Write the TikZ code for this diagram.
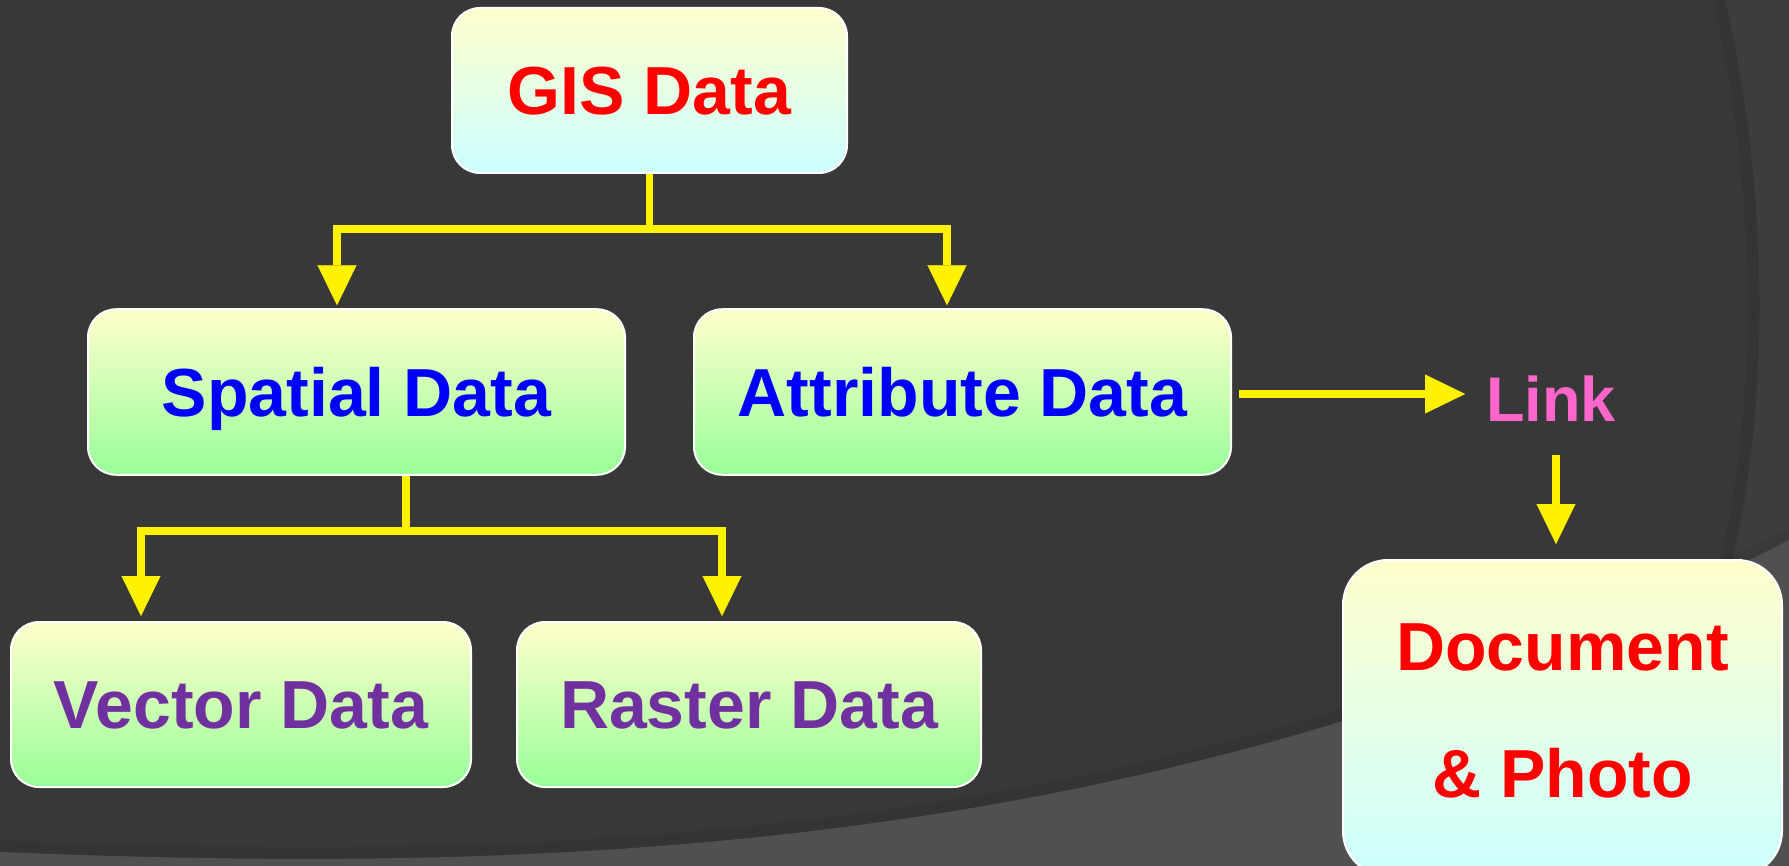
\documentclass[tikz,border=0pt]{standalone}
\usepackage{fontspec}
\setmainfont{Liberation Sans}
\usetikzlibrary{arrows.meta}

\definecolor{bgdark}{HTML}{383838}
\definecolor{bgright}{HTML}{3D3D3D}
\definecolor{bgbottom}{HTML}{505050}
\definecolor{boxtop}{HTML}{FFFFCC}
\definecolor{boxgreen}{HTML}{99FF99}
\definecolor{boxcyan}{HTML}{CCFFFF}
\definecolor{linkpink}{HTML}{FF66CC}
\definecolor{datapurple}{HTML}{7030A0}

\begin{document}
\begin{tikzpicture}[
      x=1pt, y=-1pt,
      every node/.style={font=\bfseries\fontsize{68pt}{127pt}\selectfont, inner sep=0pt},
      databox/.style={draw=white, line width=2pt, rounded corners=28pt,
        top color=boxtop, bottom color=boxgreen, text height=48.7pt, text depth=0pt},
      cyanbox/.style={databox, bottom color=boxcyan},
      conn/.style={draw=yellow, line width=7.5pt},
      arr/.style={conn, -{Triangle[length=40pt, width=39pt, line width=0.1pt]}},
      curveshade/.style={black, opacity=0.06, line width=12pt}
    ]

    % Background
    \useasboundingbox (0,0) rectangle (1789,866);
    \fill[bgdark] (0,0) rectangle (1789,866);
    \draw[curveshade] (1719,0) .. controls (1762,180) and (1769,420) .. (1716,600);
    \fill[bgright] (1725,0) .. controls (1768,180) and (1775,420) .. (1722,600)
      -- (1789,600) -- (1789,0) -- cycle;
    \draw[curveshade] (0,846) .. controls (500,866) and (1150,864) .. (1789,534);
    \fill[bgbottom] (0,852) .. controls (500,872) and (1150,870) .. (1789,540)
      -- (1789,866) -- (0,866) -- cycle;

    % Root node
    \node[cyanbox, text=red, minimum width=395pt, minimum height=165pt] (gis) at (649.5,90.5) {GIS Data};

    % Second level
    \node[databox, text=blue, minimum width=537pt, minimum height=165.5pt] (spatial) at (356.5,392) {Spatial Data};
    \node[databox, text=blue, minimum width=537pt, minimum height=165.5pt] (attr) at (962.5,392) {Attribute Data};

    % Third level
    \node[databox, text=datapurple, minimum width=460pt, minimum height=165pt] (vector) at (241,704.5) {Vector Data};
    \node[databox, text=datapurple, minimum width=464pt, minimum height=165pt] (raster) at (749,704.5) {Raster Data};

    % Link and document
    \node[text=linkpink, font=\bfseries\fontsize{63pt}{70pt}\selectfont, text height=45pt, text depth=0pt] (link) at (1551,399.5) {Link};
    \node[cyanbox, rounded corners=45pt, minimum width=439pt, minimum height=316pt] (doc) at (1562.5,718) {};
    \node[text=red, align=center] (doclbl) at (1562.5,711) {Document\\\& Photo};

    % Connectors
    \draw[conn] (gis.south) -- ++(0,55) coordinate (gfork);
    \draw[arr] (gfork) -| ([xshift=-19.5pt,yshift=3pt]spatial.north);
    \draw[arr] (gfork) -| ([xshift=-15.5pt,yshift=3pt]attr.north);

    \draw[conn] ([xshift=49.5pt]spatial.south) -- ++(0,55) coordinate (sfork);
    \draw[arr] (sfork) -| ([xshift=-100pt,yshift=5pt]vector.north);
    \draw[arr] (sfork) -| ([xshift=-27pt,yshift=5pt]raster.north);

    \draw[arr] ([xshift=7pt,yshift=-2pt]attr.east) -- ([xshift=-21pt,yshift=-2pt]attr.east -| link.west);
    \draw[arr] ([xshift=5pt,yshift=-33pt]link.south) -- ([xshift=-6.5pt,yshift=15pt]doc.north);

\end{tikzpicture}
\end{document}
